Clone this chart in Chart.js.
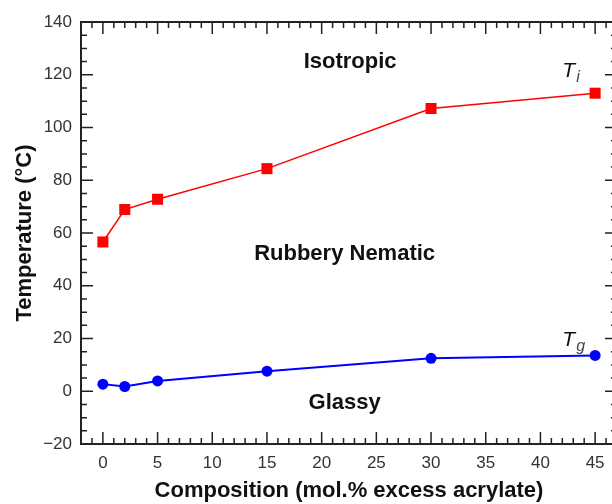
<!DOCTYPE html>
<html lang="en">
<head>
    <meta charset="UTF-8">
    <title>Transition temperatures vs composition</title>
    <script src="https://cdn.jsdelivr.net/npm/chart.js"></script>
    <style>
        body {
            margin: 0;
            background: #fff;
            overflow: hidden;
        }
        /* plot frame runs slightly past the right edge, as in the source figure */
        .wrap {
            width: 618px;
            height: 504px;
        }
    </style>
</head>
<body>
    <div class="wrap">
        <canvas id="phaseChart" width="618" height="504"></canvas>
    </div>

    <script>
        // composition (mol.% excess acrylate)
        const composition = [0, 2, 5, 15, 30, 45];
        // isotropic transition T_i and glass transition T_g (deg C)
        const tiValues = [56.6, 68.9, 72.8, 84.4, 107.2, 113.0];
        const tgValues = [2.7, 1.8, 3.9, 7.6, 12.5, 13.6];

        const xTicks = [0, 5, 10, 15, 20, 25, 30, 35, 40, 45];
        const yTicks = [-20, 0, 20, 40, 60, 80, 100, 120, 140];

        // region labels, placed in data coordinates
        const regionLabels = [
            { text: 'Isotropic', x: 22.6, y: 125 },
            { text: 'Rubbery Nematic', x: 22.1, y: 52.1 },
            { text: 'Glassy', x: 22.1, y: -4.6 }
        ];
        const seriesLabels = [
            { main: 'T', sub: 'i', x: 42.0, y: 119.3 },
            { main: 'T', sub: 'g', x: 42.0, y: 17.0 }
        ];

        const axisColor = '#222';
        const fontFamily = '"Liberation Sans", Arial, sans-serif';

        // frame + inward ticks on all four sides, plus the text labels
        const framePlugin = {
            id: 'frame',
            afterDatasetsDraw(chart) {
                const { ctx, chartArea: a, scales: { x, y } } = chart;
                ctx.save();
                ctx.strokeStyle = axisColor;
                ctx.lineWidth = 1.5;
                ctx.beginPath();
                for (let v = -2; v <= 47; v++) {
                    const px = x.getPixelForValue(v);
                    const len = v % 5 === 0 ? 12 : 6;
                    ctx.moveTo(px, a.bottom);
                    ctx.lineTo(px, a.bottom - len);
                    ctx.moveTo(px, a.top);
                    ctx.lineTo(px, a.top + len);
                }
                for (let v = -20; v <= 140; v += 5) {
                    const py = y.getPixelForValue(v);
                    const len = v % 20 === 0 ? 12 : 6;
                    ctx.moveTo(a.left, py);
                    ctx.lineTo(a.left + len, py);
                    ctx.moveTo(a.right, py);
                    ctx.lineTo(a.right - len, py);
                }
                ctx.stroke();
                ctx.lineWidth = 2;
                ctx.strokeRect(a.left, a.top, a.right - a.left, a.bottom - a.top);

                // region names
                ctx.fillStyle = '#111';
                ctx.font = 'bold 22px ' + fontFamily;
                ctx.textAlign = 'center';
                ctx.textBaseline = 'middle';
                regionLabels.forEach(l => {
                    ctx.fillText(l.text, x.getPixelForValue(l.x), y.getPixelForValue(l.y));
                });

                // T_i, T_g
                ctx.textAlign = 'left';
                ctx.textBaseline = 'alphabetic';
                seriesLabels.forEach(l => {
                    const px = x.getPixelForValue(l.x);
                    const py = y.getPixelForValue(l.y);
                    ctx.font = 'italic 21px ' + fontFamily;
                    ctx.fillStyle = '#111';
                    ctx.fillText(l.main, px, py);
                    const w = ctx.measureText(l.main).width;
                    ctx.font = 'italic 16px ' + fontFamily;
                    ctx.fillStyle = '#444';
                    ctx.fillText(l.sub, px + w + 1, py + 5);
                });
                ctx.restore();
            }
        };

        const minusSign = v => String(v).replace('-', '\u2212');

        const ctx = document.getElementById('phaseChart').getContext('2d');
        new Chart(ctx, {
            type: 'line',
            data: {
                datasets: [
                    {
                        label: 'Ti',
                        data: composition.map((c, i) => ({ x: c, y: tiValues[i] })),
                        borderColor: '#ff0000',
                        backgroundColor: '#ff0000',
                        borderWidth: 1.5,
                        pointStyle: 'rect',
                        pointRadius: 7.8,
                        pointBorderWidth: 0
                    },
                    {
                        label: 'Tg',
                        data: composition.map((c, i) => ({ x: c, y: tgValues[i] })),
                        borderColor: '#0000ff',
                        backgroundColor: '#0000ff',
                        borderWidth: 2,
                        pointStyle: 'circle',
                        pointRadius: 5.5,
                        pointBorderWidth: 0
                    }
                ]
            },
            options: {
                responsive: false,
                animation: false,
                layout: { autoPadding: false, padding: { top: 22, right: 1, left: 0, bottom: 0 } },
                plugins: {
                    legend: { display: false },
                    tooltip: { enabled: false }
                },
                scales: {
                    x: {
                        type: 'linear',
                        min: -2,
                        max: 47,
                        afterBuildTicks: s => { s.ticks = xTicks.map(v => ({ value: v })); },
                        afterFit: s => { s.height = 60; s.paddingLeft = 0; s.paddingRight = 0; },
                        grid: { display: false, drawTicks: false },
                        border: { display: false },
                        ticks: {
                            padding: 9,
                            color: '#333',
                            callback: minusSign,
                            font: { family: fontFamily, size: 17 }
                        },
                        title: {
                            display: true,
                            text: 'Composition (mol.% excess acrylate)',
                            color: '#111',
                            padding: { top: 0, bottom: 0 },
                            font: { family: fontFamily, size: 22, weight: 'bold' }
                        }
                    },
                    y: {
                        min: -20,
                        max: 140,
                        afterBuildTicks: s => { s.ticks = yTicks.map(v => ({ value: v })); },
                        afterFit: s => { s.width = 81; s.paddingTop = 0; s.paddingBottom = 0; },
                        grid: { display: false, drawTicks: false },
                        border: { display: false },
                        ticks: {
                            padding: 9,
                            color: '#333',
                            callback: minusSign,
                            font: { family: fontFamily, size: 17 }
                        },
                        title: {
                            display: true,
                            text: 'Temperature (\u00B0C)',
                            color: '#111',
                            padding: { top: 12, bottom: 0 },
                            font: { family: fontFamily, size: 22, weight: 'bold' }
                        }
                    }
                }
            },
            plugins: [framePlugin]
        });
    </script>
</body>
</html>
